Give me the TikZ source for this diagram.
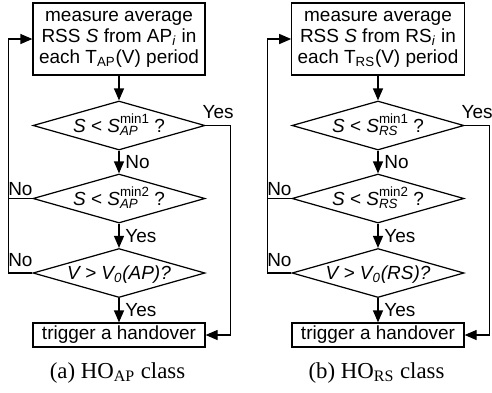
\documentclass[tikz,border=0pt]{standalone}
\usepackage{amsmath}
\usepackage{fontspec}
\setmainfont{Liberation Sans}
\newfontfamily\capfont{Liberation Serif}
\usetikzlibrary{shapes.geometric,arrows.meta}

% S with a stacked upper and lower index
\newcommand{\Sidx}[2]{\textit{S}\mbox{\fontsize{7.6}{8}\selectfont
  \rlap{\raisebox{-1.9pt}{\itshape #2}}\raisebox{4.9pt}{#1}}}

\tikzset{
  blk/.style={draw,rectangle,minimum width=3.44cm,align=center,font=\fontsize{10.8}{12}\selectfont},
  dec/.style={draw,diamond,minimum width=3.44cm,minimum height=0.98cm,aspect=3.5,inner sep=0pt,
    text height=0.26cm,text depth=0pt,font=\fontsize{10.8}{12}\selectfont},
  lbl/.style={font=\fontsize{10.8}{12}\selectfont},
  capt/.style={anchor=base,font=\capfont\fontsize{13}{15}\selectfont}
}

\begin{document}
\begin{tikzpicture}[>={Triangle[length=0.24cm,width=0.2cm]},line width=0.7pt]
	  \useasboundingbox (0,0) rectangle (9.84,-7.84);
	  % (a) AP side
	  \node[blk,minimum height=1.44cm] (ma) at (2.38,-0.78) {measure average\\RSS \textit{S} from AP\textsubscript{\textit{i}} in\\each T\textsubscript{AP}(V) period};
	  \node[dec] (a1) at (2.38,-2.51) {\textit{S} < \Sidx{min1}{AP} ?};
	  \node[dec] (a2) at (2.38,-3.97) {\textit{S} < \Sidx{min2}{AP} ?};
	  \node[dec] (a3) at (2.38,-5.46) {\textit{V > V\(_{\text{0}}\)(AP)?}};
	  \node[blk,minimum height=0.48cm,inner ysep=1pt] (ta) at (2.38,-6.70) {trigger a handover};
	  \node[capt] (ca) at (2.35,-7.56) {(a) HO\textsubscript{AP} class};
	  \draw[->] (ma) -- (a1);
	  \draw[->] (a1) -- node[lbl,right]{No} (a2);
	  \draw[->] (a2) -- node[lbl,right]{Yes} (a3);
	  \draw[->] (a3) -- node[lbl,right]{Yes} (ta);
	  \draw[->] (a1.east) -- node[lbl,above]{Yes} ++(0.5,0) |- (ta.east);
	  \draw[->] (a2.west) -- node[lbl,above,inner sep=1pt]{No} ++(-0.48,0) |- (ma.west);
	  \draw (a3.west) -- node[lbl,above]{No} ++(-0.48,0) |- (a2.west);
	  % (b) RS side
	  \node[blk,minimum height=1.44cm] (mb) at (7.56,-0.78) {measure average\\RSS \textit{S} from RS\textsubscript{\textit{i}} in\\each T\textsubscript{RS}(V) period};
	  \node[dec] (b1) at (7.56,-2.51) {\textit{S} < \Sidx{min1}{RS} ?};
	  \node[dec] (b2) at (7.56,-3.97) {\textit{S} < \Sidx{min2}{RS} ?};
	  \node[dec] (b3) at (7.56,-5.46) {\textit{V > V\(_{\text{0}}\)(RS)?}};
	  \node[blk,minimum height=0.48cm,inner ysep=1pt] (tb) at (7.56,-6.70) {trigger a handover};
	  \node[capt] (cb) at (7.53,-7.56) {(b) HO\textsubscript{RS} class};
	  \draw[->] (mb) -- (b1);
	  \draw[->] (b1) -- node[lbl,right]{No} (b2);
	  \draw[->] (b2) -- node[lbl,right]{Yes} (b3);
	  \draw[->] (b3) -- node[lbl,right]{Yes} (tb);
	  \draw[->] (b1.east) -- node[lbl,above]{Yes} ++(0.5,0) |- (tb.east);
	  \draw[->] (b2.west) -- node[lbl,above,inner sep=1pt]{No} ++(-0.48,0) |- (mb.west);
	  \draw (b3.west) -- node[lbl,above]{No} ++(-0.48,0) |- (b2.west);
	\end{tikzpicture}
\end{document}
